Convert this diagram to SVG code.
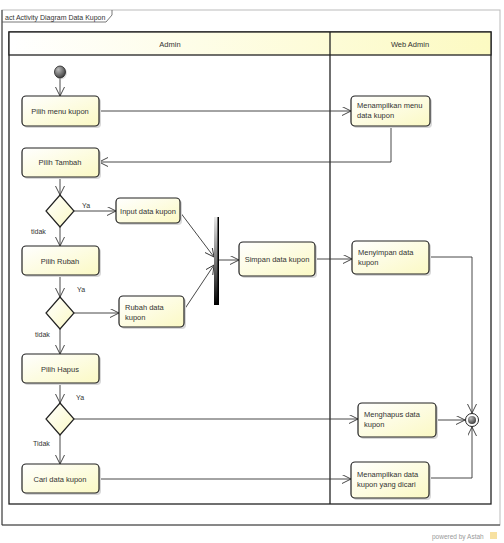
<svg xmlns="http://www.w3.org/2000/svg" width="504" height="543" viewBox="0 0 504 543">
<style>
text{font-family:"Liberation Sans",Arial,sans-serif;font-size:7.5px;fill:#333}
.node{fill:url(#ng);stroke:#222;stroke-width:1.2}
.sh{fill:#d8d8d8}
.con{fill:none;stroke:#333;stroke-width:0.9}
.lbl{font-size:7px}
.c{text-anchor:middle}
</style>
<defs>
<linearGradient id="ng" x1="0" y1="0" x2="1" y2="1">
<stop offset="0" stop-color="#ffffff"/>
<stop offset="1" stop-color="#fbf9c4"/>
</linearGradient>
<linearGradient id="hg" x1="0" y1="0" x2="1" y2="0">
<stop offset="0" stop-color="#ffffff"/>
<stop offset="1" stop-color="#fcfac2"/>
</linearGradient>
<linearGradient id="bg" x1="0" y1="0" x2="0" y2="1">
<stop offset="0" stop-color="#e8e8e8"/>
<stop offset="0.5" stop-color="#777"/>
<stop offset="1" stop-color="#000"/>
</linearGradient>
<radialGradient id="ig" cx="0.35" cy="0.3" r="0.8">
<stop offset="0" stop-color="#bbb"/>
<stop offset="1" stop-color="#333"/>
</radialGradient>
<marker id="ar" markerWidth="10" markerHeight="10" refX="9" refY="4.5" orient="auto" markerUnits="userSpaceOnUse">
<path d="M0,0 L9,4.5 L0,9" fill="none" stroke="#333" stroke-width="0.9"/>
</marker>
</defs>

<g id="frame">
<rect x="2" y="10" width="498" height="515" fill="#fff" stroke="#bbb" stroke-width="1"/>
<path d="M2,10 V525 H500" fill="none" stroke="#333" stroke-width="1"/>
<path d="M2,22 H106 L112,15 V10" fill="none" stroke="#555" stroke-width="0.8"/>
<text x="5" y="19.5" style="font-size:7px">act Activity Diagram Data Kupon</text>
</g>

<g id="partitions">
<rect x="9" y="32" width="482" height="472" fill="none" stroke="#222" stroke-width="1.3"/>
<rect x="9" y="32" width="482" height="23" fill="url(#hg)" stroke="#222" stroke-width="1.3"/>
<line x1="330" y1="32" x2="330" y2="504" stroke="#222" stroke-width="1.3"/>
<text x="170" y="46.5" class="c">Admin</text>
<text x="410" y="46.5" class="c">Web Admin</text>
</g>

<g id="connectors">
<path class="con" d="M60,78 V96" marker-end="url(#ar)"/>
<path class="con" d="M99,111 H351" marker-end="url(#ar)"/>
<path class="con" d="M391,126 V162 H99" marker-end="url(#ar)"/>
<path class="con" d="M60,177 V195" marker-end="url(#ar)"/>
<path class="con" d="M74,211 H116" marker-end="url(#ar)"/>
<path class="con" d="M60,227 V246" marker-end="url(#ar)"/>
<path class="con" d="M60,275 V297" marker-end="url(#ar)"/>
<path class="con" d="M74,313 H119" marker-end="url(#ar)"/>
<path class="con" d="M60,329 V354" marker-end="url(#ar)"/>
<path class="con" d="M60,383 V403" marker-end="url(#ar)"/>
<path class="con" d="M60,435 V464" marker-end="url(#ar)"/>
<path class="con" d="M180,212 L214,257" marker-end="url(#ar)"/>
<path class="con" d="M184,310 L214,265" marker-end="url(#ar)"/>
<path class="con" d="M219,260 H239" marker-end="url(#ar)"/>
<path class="con" d="M315,259 H352" marker-end="url(#ar)"/>
<path class="con" d="M429,257 H472 V413" marker-end="url(#ar)"/>
<path class="con" d="M74,419 H358" marker-end="url(#ar)"/>
<path class="con" d="M436,420 H465" marker-end="url(#ar)"/>
<path class="con" d="M99,479 H351" marker-end="url(#ar)"/>
<path class="con" d="M429,478 H472 V427" marker-end="url(#ar)"/>
<text x="82" y="208" class="lbl">Ya</text>
<text x="31" y="234" class="lbl">tidak</text>
<text x="77" y="292" class="lbl">Ya</text>
<text x="35" y="337" class="lbl">tidak</text>
<text x="76" y="400" class="lbl">Ya</text>
<text x="33" y="446" class="lbl">Tidak</text>
</g>

<g id="start">
<ellipse cx="61" cy="73" rx="6" ry="6.5" fill="#ccc" opacity="0.6"/>
<ellipse cx="60" cy="72" rx="5.5" ry="6" fill="url(#ig)" stroke="#222" stroke-width="0.8"/>
</g>

<g id="pilih-menu-kupon">
<rect x="24" y="98" width="77" height="30" rx="4" class="sh"/>
<rect x="22" y="96" width="77" height="30" rx="4" class="node"/>
<text x="60" y="114" class="c">Pilih menu kupon</text>
</g>

<g id="menampilkan-menu">
<rect x="353" y="98" width="79" height="30" rx="4" class="sh"/>
<rect x="351" y="96" width="79" height="30" rx="4" class="node"/>
<text x="357" y="108">Menampilkan menu</text>
<text x="357" y="118">data kupon</text>
</g>

<g id="pilih-tambah">
<rect x="24" y="150" width="77" height="29" rx="4" class="sh"/>
<rect x="22" y="148" width="77" height="29" rx="4" class="node"/>
<text x="60" y="165" class="c">Pilih Tambah</text>
</g>

<g id="decision-1">
<path d="M60,195 L74,211 L60,227 L46,211 Z" class="node"/>
</g>

<g id="input-data-kupon">
<rect x="118" y="200" width="64" height="25" rx="4" class="sh"/>
<rect x="116" y="198" width="64" height="25" rx="4" class="node"/>
<text x="148" y="213.5" class="c">Input data kupon</text>
</g>

<g id="pilih-rubah">
<rect x="24" y="248" width="77" height="29" rx="4" class="sh"/>
<rect x="22" y="246" width="77" height="29" rx="4" class="node"/>
<text x="60" y="263.5" class="c">Pilih Rubah</text>
</g>

<g id="decision-2">
<path d="M60,297 L74,313 L60,329 L46,313 Z" class="node"/>
</g>

<g id="rubah-data-kupon">
<rect x="121" y="298" width="65" height="31" rx="4" class="sh"/>
<rect x="119" y="296" width="65" height="31" rx="4" class="node"/>
<text x="125" y="310">Rubah data</text>
<text x="125" y="320">kupon</text>
</g>

<g id="fork">
<rect x="214" y="217" width="5" height="88" fill="url(#bg)"/>
<rect x="217.5" y="217" width="1.5" height="88" fill="#000"/>
</g>

<g id="simpan-data-kupon">
<rect x="241" y="244" width="76" height="34" rx="4" class="sh"/>
<rect x="239" y="242" width="76" height="34" rx="4" class="node"/>
<text x="277" y="262" class="c">Simpan data kupon</text>
</g>

<g id="menyimpan-data-kupon">
<rect x="354" y="243" width="77" height="33" rx="4" class="sh"/>
<rect x="352" y="241" width="77" height="33" rx="4" class="node"/>
<text x="358" y="255">Menyimpan data</text>
<text x="358" y="265">kupon</text>
</g>

<g id="pilih-hapus">
<rect x="24" y="356" width="77" height="29" rx="4" class="sh"/>
<rect x="22" y="354" width="77" height="29" rx="4" class="node"/>
<text x="60" y="371.5" class="c">Pilih Hapus</text>
</g>

<g id="decision-3">
<path d="M60,403 L74,419 L60,435 L46,419 Z" class="node"/>
</g>

<g id="menghapus-data-kupon">
<rect x="360" y="405" width="78" height="34" rx="4" class="sh"/>
<rect x="358" y="403" width="78" height="34" rx="4" class="node"/>
<text x="364" y="417">Menghapus data</text>
<text x="364" y="427">kupon</text>
</g>

<g id="cari-data-kupon">
<rect x="24" y="466" width="77" height="29" rx="4" class="sh"/>
<rect x="22" y="464" width="77" height="29" rx="4" class="node"/>
<text x="60" y="481.5" class="c">Cari data kupon</text>
</g>

<g id="menampilkan-data-dicari">
<rect x="353" y="464" width="78" height="36" rx="4" class="sh"/>
<rect x="351" y="462" width="78" height="36" rx="4" class="node"/>
<text x="357" y="477">Menampilkan data</text>
<text x="357" y="487">kupon yang dicari</text>
</g>

<g id="final">
<circle cx="472" cy="420" r="6.5" fill="#fff" stroke="#222" stroke-width="1"/>
<circle cx="472" cy="420" r="4" fill="url(#ig)"/>
</g>

<g id="footer">
<text x="432" y="539" style="font-size:6.5px;fill:#999">powered by Astah</text>
<rect x="490" y="532" width="7" height="7" fill="#f5d98a" opacity="0.8"/>
</g>
</svg>
